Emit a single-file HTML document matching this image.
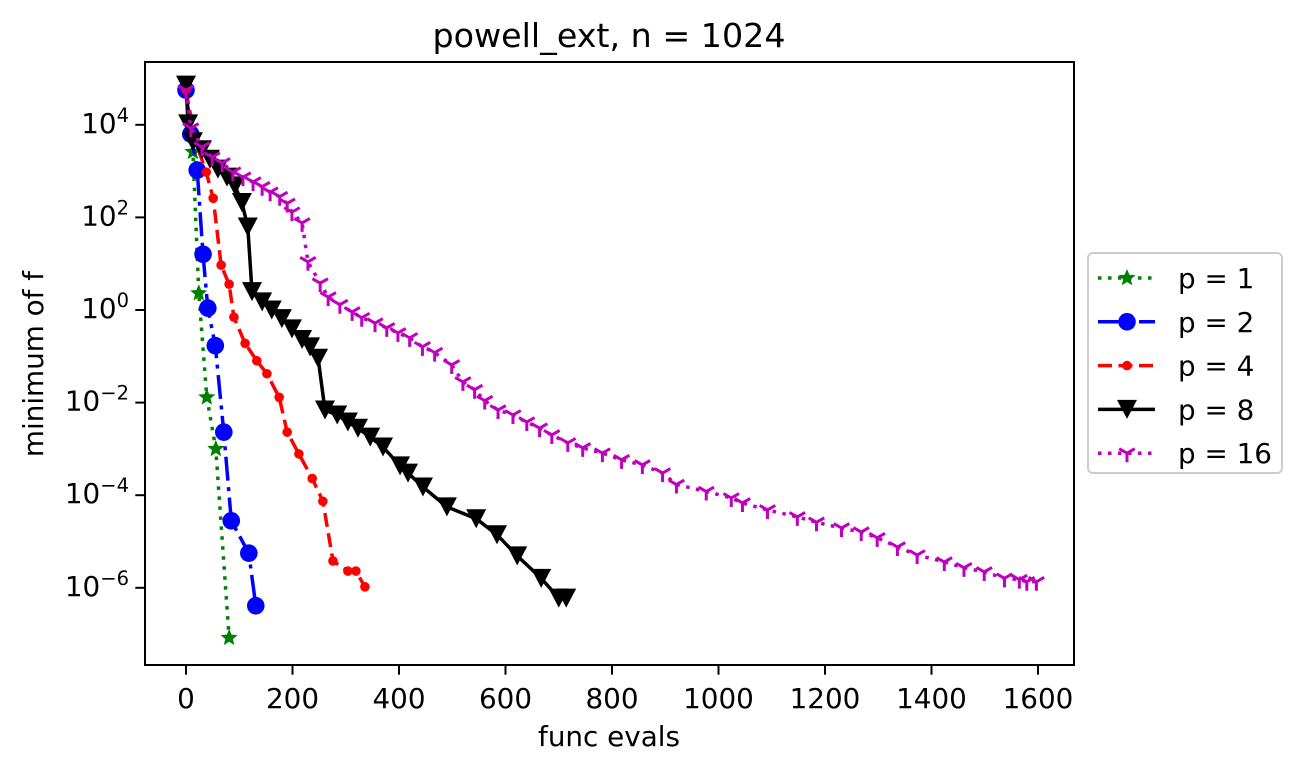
<!DOCTYPE html>
<html><head><meta charset="utf-8"><style>
body{margin:0;background:#fff;}
svg{display:block;font-family:"DejaVu Sans","Liberation Sans",sans-serif;}
</style></head><body>
<svg id="chart" width="1301" height="773" xmlns="http://www.w3.org/2000/svg"></svg>
<script>
const p1x=[0,13,24,39,56,81];
const p1y=[6.2e4,2.6e3,2.3,1.3e-2,1.0e-3,8.3e-8];
const p2x=[0,9,21,32,41,55,71,85,118,131];
const p2y=[5.6e4,6.3e3,1.05e3,16,1.1,0.17,2.3e-3,2.8e-5,5.6e-6,4.1e-7];
const p4x=[0,17,38,51,66,81,90,111,133,152,175,190,212,237,257,276,304,319,336];
const p4y=[5.6e4,4.7e3,950,260,9.3,3.6,0.7,0.19,0.08,0.042,0.013,2.3e-3,7.8e-4,2.3e-4,7.4e-5,3.8e-6,2.3e-6,2.3e-6,1.05e-6];
const p8x=[0,4,13,30,45,60,77,92,105,116,124,143,161,180,199,218,233,248,261,284,304,323,346,370,402,417,445,490,545,584,622,667,700,714];
const p8y=[7.2e4,1.05e4,4.3e3,2.9e3,1.8e3,1.1e3,740,480,210,62,2.5,1.5,1.0,0.65,0.39,0.23,0.16,0.091,6.9e-3,5.4e-3,3.8e-3,2.8e-3,1.8e-3,1.1e-3,4.3e-4,3.0e-4,1.5e-4,5.6e-5,3.1e-5,1.4e-5,4.9e-6,1.6e-6,6.0e-7,6.0e-7];
const p16x=[0,9,30,49,68,88,107,126,143,158,176,190,199,218,229,252,267,289,312,330,355,377,398,420,444,467,499,520,542,561,586,614,640,664,687,717,745,782,818,857,895,921,977,1024,1045,1092,1148,1184,1231,1268,1298,1336,1373,1424,1461,1499,1537,1565,1579,1597];
const p16y=[5.6e4,8.5e3,3.3e3,2.0e3,1.5e3,950,740,580,460,350,280,200,130,76,11,3.8,1.9,1.3,0.91,0.68,0.52,0.41,0.32,0.25,0.16,0.12,0.065,0.028,0.019,0.011,6.9e-3,5.4e-3,3.8e-3,2.8e-3,2.0e-3,1.35e-3,1.05e-3,8.1e-4,5.8e-4,4.5e-4,3.0e-4,1.7e-4,1.2e-4,8.7e-5,6.8e-5,4.8e-5,3.4e-5,2.6e-5,1.95e-5,1.6e-5,1.2e-5,7.6e-6,5.1e-6,3.6e-6,2.7e-6,2.2e-6,1.6e-6,1.5e-6,1.35e-6,1.35e-6];
const xTicks=[0,200,400,600,800,1000,1200,1400,1600];
const yTickExp=[4,2,0,-2,-4,-6];
const seriesLabels=["p = 1","p = 2","p = 4","p = 8","p = 16"];

const NS="http://www.w3.org/2000/svg";
const svg=document.getElementById('chart');
const L=145,R=1074,T=62,B=665;
const FS=27.8;
function sx(v){return 186+v*0.5325;}
function sy(v){return 310-Math.log10(v)*46.3;}
function el(tag,attrs,parent){const e=document.createElementNS(NS,tag);for(const k in attrs)e.setAttribute(k,attrs[k]);(parent||svg).appendChild(e);return e;}

const clip=el('clipPath',{id:'pc'});el('rect',{x:L,y:T,width:R-L,height:B-T},clip);
const plot=el('g',{'clip-path':'url(#pc)'});



function marker(g,type,x,y,color){
  let m;
  if(type==='star'){
    let pts=[];for(let i=0;i<10;i++){const r=i%2?4:9;const a=-Math.PI/2+i*Math.PI/5;pts.push((x+r*Math.cos(a)).toFixed(1)+','+(y+r*Math.sin(a)).toFixed(1));}
    m=el('polygon',{points:pts.join(' '),fill:color},g);
  }else if(type==='circle'){m=el('circle',{cx:x,cy:y,r:8.8,fill:color},g);}
  else if(type==='dot'){m=el('circle',{cx:x,cy:y,r:4.8,fill:color},g);}
  else if(type==='tri'){m=el('polygon',{points:`${x-10},${y-9.5} ${x+10},${y-9.5} ${x},${y+9.5}`,fill:color},g);}
  else if(type==='tri1'){m=el('path',{d:`M${x},${y}L${x},${y+9}M${x},${y}L${x-7.8},${y-4.5}M${x},${y}L${x+7.8},${y-4.5}`,stroke:color,'stroke-width':3,fill:'none'},g);}
  
  
}
const series=[
 {x:p1x,y:p1y,c:'#008000',dash:'3.5,6.5',m:'star',w:3.5,name:'series-p1'},
 {x:p2x,y:p2y,c:'#0000ff',dash:'24,6.5,4,6.5',m:'circle',w:3.5,name:'series-p2'},
 {x:p4x,y:p4y,c:'#ff0000',dash:'14,6.5',m:'dot',w:3.5,name:'series-p4'},
 {x:p8x,y:p8y,c:'#000000',dash:'',m:'tri',w:3.5,name:'series-p8'},
 {x:p16x,y:p16y,c:'#bf00bf',dash:'3.5,6.5',m:'tri1',w:3.5,name:'series-p16'}
];
series.forEach(s=>{
  const g=el('g',{},plot);
  
  
  const d=s.x.map((v,i)=>(i?'L':'M')+sx(v).toFixed(1)+','+sy(s.y[i]).toFixed(1)).join('');
  const p=el('path',{d:d,fill:'none',stroke:s.c,'stroke-width':s.w,'stroke-dasharray':s.dash},g);
  
  
  s.x.forEach((v,i)=>marker(g,s.m,sx(v),sy(s.y[i]),s.c));
});

const frame=el('rect',{x:L,y:T,width:R-L,height:B-T,fill:'none',stroke:'#000','stroke-width':2});



xTicks.forEach(v=>{
  const x=sx(v);
  el('line',{x1:x,y1:B,x2:x,y2:B+9.7,stroke:'#000','stroke-width':2});
  const t=el('text',{x:x,y:708,'font-size':FS,'text-anchor':'middle'});t.textContent=v;
  
  
});
yTickExp.forEach(e=>{
  const y=sy(Math.pow(10,e));
  el('line',{x1:L-9.7,y1:y,x2:L,y2:y,stroke:'#000','stroke-width':2});
  const t=el('text',{x:L-16,y:y+8,'font-size':FS,'text-anchor':'end'});
  
  
  const a=el('tspan',{},t);a.textContent='10';
  const b=el('tspan',{dy:-11,'font-size':19.5});b.textContent=(e<0?'\u2212'+(-e):e);t.appendChild(b);
});

let t=el('text',{x:609,y:47,'font-size':33.3,'text-anchor':'middle'});t.textContent='powell_ext, n = 1024';

t=el('text',{x:609,y:746,'font-size':FS,'text-anchor':'middle'});t.textContent='func evals';

t=el('text',{x:0,y:0,'font-size':FS,'text-anchor':'middle',transform:'translate(43,364) rotate(-90)'});t.textContent='minimum of f';


const lg=el('g',{});


el('rect',{x:1088,y:253,width:194,height:220,rx:5,fill:'#fff',stroke:'#ccc','stroke-width':2},lg);
series.forEach((s,i)=>{
  const y=278+i*43.8;
  const g=el('g',{},lg);
  
  
  el('line',{x1:1098,y1:y,x2:1155,y2:y,stroke:s.c,'stroke-width':s.w,'stroke-dasharray':s.dash},g);
  marker(g,s.m,1127,y,s.c);
  const tx=el('text',{x:1178,y:y+10,'font-size':FS},g);tx.textContent=seriesLabels[i];
});
</script>
</body></html>
